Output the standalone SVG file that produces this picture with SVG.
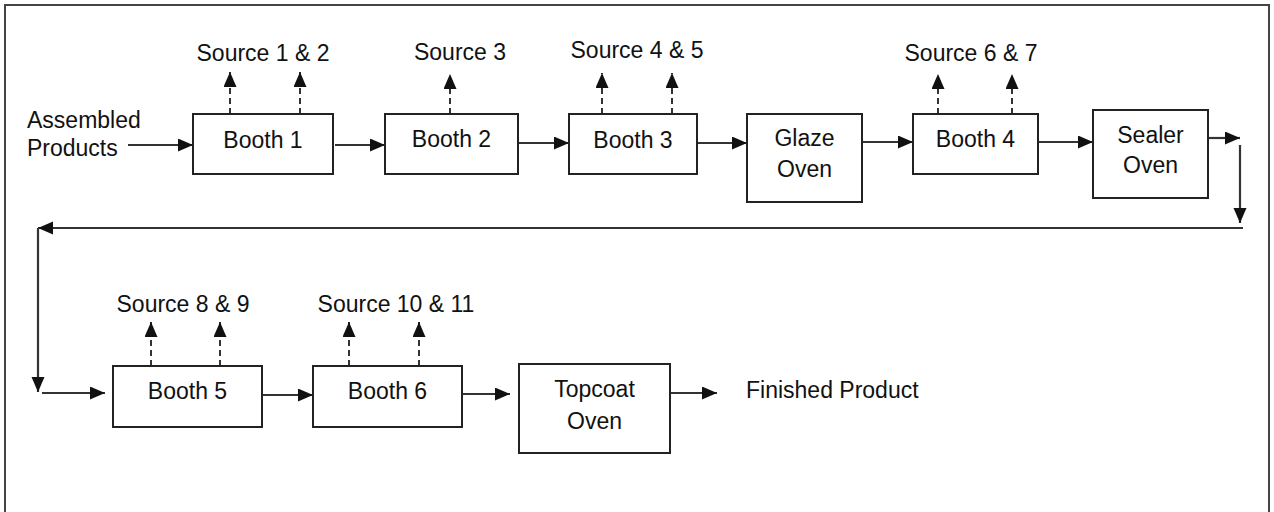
<svg xmlns="http://www.w3.org/2000/svg" width="1274" height="512" viewBox="0 0 1274 512">
<style>
.box{fill:#fff;stroke:#222;stroke-width:2}
.t{font-family:"Liberation Sans",Arial,sans-serif;font-size:23px;fill:#111}
.c{text-anchor:middle}
.ln{fill:none;stroke:#333;stroke-width:2.2}
.ds{fill:none;stroke:#333;stroke-width:2;stroke-dasharray:6 4}
</style>
<defs>
<marker id="ah" markerUnits="userSpaceOnUse" markerWidth="16" markerHeight="14" refX="15" refY="6.5" orient="auto">
<path d="M0,0 L15,6.5 L0,13 z" fill="#111"/>
</marker>
</defs>
<rect x="5" y="5" width="1264" height="520" fill="#fff" stroke="#444" stroke-width="2"/>
<g id="connectors">
<path class="ln" d="M128,145 H193" marker-end="url(#ah)"/>
<path class="ln" d="M335,145 H385" marker-end="url(#ah)"/>
<path class="ln" d="M518,143 H569" marker-end="url(#ah)"/>
<path class="ln" d="M697,143 H747" marker-end="url(#ah)"/>
<path class="ln" d="M862,142 H913" marker-end="url(#ah)"/>
<path class="ln" d="M1038,142 H1093" marker-end="url(#ah)"/>
<path class="ln" d="M1208,138 H1240" marker-end="url(#ah)"/>
<path class="ln" d="M1240,145 V223" marker-end="url(#ah)"/>
<path class="ln" d="M1243,228 H38" marker-end="url(#ah)"/>
<path class="ln" d="M38,228 V392" marker-end="url(#ah)"/>
<path class="ln" d="M42,393 H105" marker-end="url(#ah)"/>
<path class="ln" d="M262,395 H313" marker-end="url(#ah)"/>
<path class="ln" d="M462,394 H510" marker-end="url(#ah)"/>
<path class="ln" d="M670,393 H717" marker-end="url(#ah)"/>
<path class="ds" d="M230,114 V72" marker-end="url(#ah)"/>
<path class="ds" d="M300,114 V72" marker-end="url(#ah)"/>
<path class="ds" d="M450,114 V74" marker-end="url(#ah)"/>
<path class="ds" d="M602,114 V73" marker-end="url(#ah)"/>
<path class="ds" d="M672,114 V73" marker-end="url(#ah)"/>
<path class="ds" d="M938,114 V74" marker-end="url(#ah)"/>
<path class="ds" d="M1012,114 V74" marker-end="url(#ah)"/>
<path class="ds" d="M151,366 V322" marker-end="url(#ah)"/>
<path class="ds" d="M220,366 V322" marker-end="url(#ah)"/>
<path class="ds" d="M349,366 V322" marker-end="url(#ah)"/>
<path class="ds" d="M419,366 V322" marker-end="url(#ah)"/>
</g>
<g id="input"><text class="t" x="27" y="128">Assembled</text><text class="t" x="27" y="156">Products</text></g>
<g id="booth1"><rect class="box" x="193" y="114" width="140" height="60"/><text class="t c" x="263" y="148">Booth 1</text></g>
<g id="src12"><text class="t c" x="263" y="61">Source 1 &amp; 2</text></g>
<g id="booth2"><rect class="box" x="385" y="114" width="133" height="60"/><text class="t c" x="451.5" y="147">Booth 2</text></g>
<g id="src3"><text class="t c" x="460" y="60">Source 3</text></g>
<g id="booth3"><rect class="box" x="569" y="114" width="128" height="60"/><text class="t c" x="633" y="148">Booth 3</text></g>
<g id="src45"><text class="t c" x="637" y="58">Source 4 &amp; 5</text></g>
<g id="glaze"><rect class="box" x="747" y="114" width="115" height="88"/><text class="t c" x="804.5" y="146">Glaze</text><text class="t c" x="804.5" y="177">Oven</text></g>
<g id="booth4"><rect class="box" x="913" y="114" width="125" height="60"/><text class="t c" x="975.5" y="147">Booth 4</text></g>
<g id="src67"><text class="t c" x="971" y="61">Source 6 &amp; 7</text></g>
<g id="sealer"><rect class="box" x="1093" y="110" width="115" height="88"/><text class="t c" x="1150.5" y="143">Sealer</text><text class="t c" x="1150.5" y="173">Oven</text></g>
<g id="booth5"><rect class="box" x="113" y="366" width="149" height="61"/><text class="t c" x="187.5" y="399">Booth 5</text></g>
<g id="src89"><text class="t c" x="183" y="312">Source 8 &amp; 9</text></g>
<g id="booth6"><rect class="box" x="313" y="366" width="149" height="61"/><text class="t c" x="387.5" y="399">Booth 6</text></g>
<g id="src1011"><text class="t c" x="396" y="312">Source 10 &amp; 11</text></g>
<g id="topcoat"><rect class="box" x="519" y="364" width="151" height="89"/><text class="t c" x="594.5" y="397">Topcoat</text><text class="t c" x="594.5" y="429">Oven</text></g>
<g id="output"><text class="t" x="746" y="398">Finished Product</text></g>
</svg>
